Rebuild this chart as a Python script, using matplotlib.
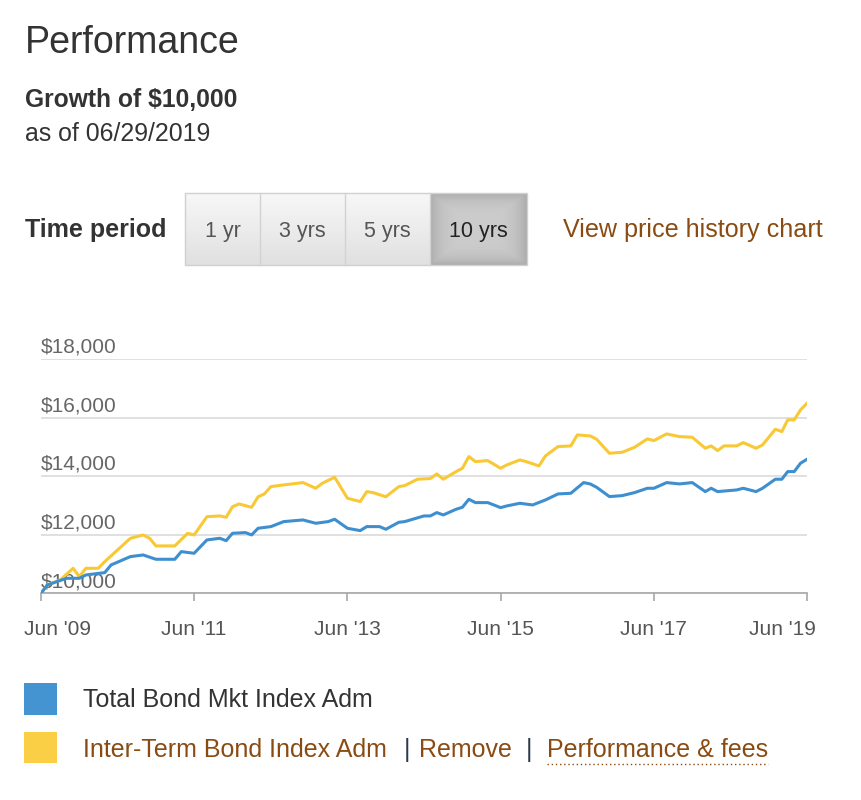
import matplotlib
matplotlib.use('Agg')
import matplotlib.pyplot as plt
import matplotlib.transforms as mtransforms
import numpy as np
import pandas as pd
from matplotlib.patches import Rectangle
from matplotlib.lines import Line2D

plt.rcParams['font.family'] = ['Liberation Sans', 'DejaVu Sans']

# ---------------- data ----------------
inter_dates = ['2009-06', '2009-07', '2009-09', '2009-11', '2009-12', '2010-01', '2010-03',
               '2010-04', '2010-06', '2010-08', '2010-10', '2010-11', '2010-12', '2011-03',
               '2011-05', '2011-06', '2011-08', '2011-10', '2011-11', '2011-12', '2012-01',
               '2012-03', '2012-04', '2012-05', '2012-06', '2012-08', '2012-11', '2013-01',
               '2013-02', '2013-04', '2013-06', '2013-08', '2013-09', '2013-10', '2013-12',
               '2014-02', '2014-03', '2014-05', '2014-07', '2014-08', '2014-09', '2014-11',
               '2014-12', '2015-01', '2015-02', '2015-04', '2015-06', '2015-07', '2015-09',
               '2015-10', '2015-12', '2016-01', '2016-03', '2016-05', '2016-06', '2016-08',
               '2016-09', '2016-11', '2017-01', '2017-03', '2017-05', '2017-06', '2017-08',
               '2017-10', '2017-12', '2018-02', '2018-03', '2018-04', '2018-05', '2018-07',
               '2018-08', '2018-10', '2018-11', '2019-01', '2019-02', '2019-03', '2019-04',
               '2019-05', '2019-06']
inter_values = [10000, 10285, 10456, 10855, 10570, 10855, 10855,
                11083, 11482, 11880, 11994, 11880, 11620, 11620,
                12050, 11994, 12620, 12645, 12600, 12960, 13055,
                12940, 13300, 13397, 13648, 13705, 13785, 13590,
                13762, 13967, 13250, 13135, 13477, 13443, 13300,
                13648, 13682, 13900, 13922, 14081, 13900, 14161,
                14275, 14674, 14503, 14537, 14275, 14389, 14560,
                14503, 14355, 14697, 15016, 15039, 15415, 15381,
                15267, 14788, 14822, 14993, 15278, 15221, 15449,
                15358, 15335, 14959, 15039, 14879, 15039, 15039,
                15153, 14959, 15073, 15609, 15529, 15928, 15928,
                16270, 16498]

total_dates = ['2009-06', '2009-07', '2009-10', '2009-12', '2010-01', '2010-04', '2010-05',
               '2010-08', '2010-10', '2010-12', '2011-03', '2011-04', '2011-06', '2011-08',
               '2011-10', '2011-11', '2011-12', '2012-02', '2012-03', '2012-04', '2012-06',
               '2012-08', '2012-11', '2013-01', '2013-03', '2013-04', '2013-06', '2013-08',
               '2013-09', '2013-11', '2013-12', '2014-02', '2014-03', '2014-06', '2014-07',
               '2014-08', '2014-09', '2014-11', '2014-12', '2015-01', '2015-02', '2015-04',
               '2015-06', '2015-07', '2015-09', '2015-11', '2016-01', '2016-03', '2016-05',
               '2016-07', '2016-08', '2016-09', '2016-11', '2017-01', '2017-03', '2017-05',
               '2017-06', '2017-08', '2017-10', '2017-12', '2018-02', '2018-03', '2018-04',
               '2018-07', '2018-08', '2018-10', '2018-11', '2019-01', '2019-02', '2019-03',
               '2019-04', '2019-05', '2019-06']
total_values = [10000, 10285, 10513, 10513, 10627, 10707, 10969,
                11254, 11311, 11163, 11163, 11425, 11368, 11824,
                11881, 11800, 12052, 12075, 11995, 12223, 12280,
                12451, 12508, 12394, 12451, 12531, 12223, 12143,
                12280, 12280, 12189, 12428, 12451, 12645, 12645,
                12759, 12679, 12873, 12941, 13215, 13101, 13101,
                12930, 12987, 13078, 13021, 13192, 13397, 13420,
                13785, 13739, 13625, 13306, 13340, 13443, 13591,
                13591, 13785, 13739, 13785, 13477, 13591, 13477,
                13534, 13591, 13477, 13591, 13900, 13900, 14161,
                14161, 14446, 14583]

y_ticks = [10000, 12000, 14000, 16000, 18000]
y_tick_labels = ['$10,000', '$12,000', '$14,000', '$16,000', '$18,000']
x_ticks = ['2009-06', '2011-06', '2013-06', '2015-06', '2017-06', '2019-06']
x_tick_labels = ["Jun '09", "Jun '11", "Jun '13", "Jun '15", "Jun '17", "Jun '19"]

periods = ['1 yr', '3 yrs', '5 yrs', '10 yrs']
series_names = ['Total Bond Mkt Index Adm', 'Inter-Term Bond Index Adm']

# ---------------- styling ----------------
BLUE = '#3e8fd0'
YELLOW = '#f8c935'
BLUE_SQ = '#4494d1'
YELLOW_SQ = '#fbcf45'
BROWN = '#8a4b12'
DARK = '#333333'

W, H = 861, 800
fig = plt.figure(figsize=(W / 100, H / 100), dpi=100)


def fx(x):
    return x / W


def fy(y):
    return 1 - y / H


# Header texts
fig.text(fx(25), fy(53.3), 'Performance', fontsize=27, color=DARK, va='baseline', ha='left')
fig.text(fx(25), fy(107.3), 'Growth of $10,000', fontsize=17.7, fontweight='bold',
         color=DARK, va='baseline', ha='left')
fig.text(fx(25), fy(140.7), 'as of 06/29/2019', fontsize=17.9, color=DARK,
         va='baseline', ha='left')

# Time period row
fig.text(fx(25), fy(237), 'Time period', fontsize=18, fontweight='bold', color=DARK,
         va='baseline', ha='left')

btn_edges = [185, 260, 345, 429.5, 526.5]
btn_top, btn_bot = 193.3, 265
for i, lab in enumerate(periods):
    x0, x1 = btn_edges[i], btn_edges[i + 1]
    selected = (i == len(periods) - 1)
    # gradient via an inset axes image
    bax = fig.add_axes([fx(x0), fy(btn_bot), (x1 - x0) / W, (btn_bot - btn_top) / H])
    bax.set_axis_off()
    if selected:
        yy = np.linspace(-1, 1, 60)[:, None]
        xx = np.linspace(-1, 1, 80)[None, :]
        r = np.maximum(np.abs(xx) ** 4, np.abs(yy) ** 4)
        grad = 0.80 - 0.12 * r
        img = np.dstack([grad, grad, grad])
    else:
        g = np.linspace(0.97, 0.88, 60)[:, None] * np.ones((1, 10))
        img = np.dstack([g, g, g])
    bax.imshow(img, aspect='auto', extent=[0, 1, 0, 1], interpolation='bilinear')
    bax.set_xlim(0, 1)
    bax.set_ylim(0, 1)
    fig.text(fx((x0 + x1) / 2), fy(236.7), lab, fontsize=15.5,
             color='#222222' if selected else '#555555', ha='center', va='baseline')
    if i > 0:
        fig.add_artist(Line2D([fx(x0), fx(x0)], [fy(btn_top), fy(btn_bot)],
                              color='#d2d2d2', lw=1.0))
fig.add_artist(Rectangle((fx(185), fy(btn_bot)), (526.5 - 185) / W, (btn_bot - btn_top) / H,
                         fill=False, edgecolor='#d0d0d0', lw=1.0))

fig.text(fx(563), fy(237), 'View price history chart', fontsize=18.1, color=BROWN,
         va='baseline', ha='left')

# ---------------- chart ----------------
ax = fig.add_axes([fx(41), fy(593.3), (807 - 41) / W, (593.3 - 359.3) / H])
d_inter = pd.to_datetime(inter_dates)
d_total = pd.to_datetime(total_dates)

ax.plot(d_inter, inter_values, color=YELLOW, lw=2.2, zorder=3, solid_joinstyle='round')
ax.plot(d_total, total_values, color=BLUE, lw=2.2, zorder=4, solid_joinstyle='round')

ax.set_ylim(10000, 18000)
ax.set_xlim(pd.Timestamp(x_ticks[0]), pd.Timestamp(x_ticks[-1]))
ax.set_yticks(y_ticks)
ax.set_yticklabels([])
ax.tick_params(axis='y', length=0)
ax.yaxis.grid(True, color='#dadada', lw=1.2, zorder=0)
ax.set_axisbelow(True)
for s in ['left', 'right', 'top']:
    ax.spines[s].set_visible(False)
ax.spines['bottom'].set_color('#a8a8a8')
ax.spines['bottom'].set_linewidth(1.2)
ax.spines['bottom'].set_zorder(2)

ax.set_xticks(pd.to_datetime(x_ticks))
ax.set_xticklabels(x_tick_labels)
ax.tick_params(axis='x', length=6, width=1.2, color='#a8a8a8', labelsize=15,
               labelcolor='#555555', pad=13)
labels = ax.get_xticklabels()
labels[0].set_transform(labels[0].get_transform() +
                        mtransforms.ScaledTranslation(17 / 100, 0, fig.dpi_scale_trans))
labels[-1].set_transform(labels[-1].get_transform() +
                         mtransforms.ScaledTranslation(-24.5 / 100, 0, fig.dpi_scale_trans))

ytrans = mtransforms.offset_copy(ax.get_yaxis_transform(), fig=fig, x=-0.5, y=6.3, units='dots')
for v, lab in zip(y_ticks, y_tick_labels):
    ax.text(0, v, lab, transform=ytrans, fontsize=15, color='#666666', ha='left',
            va='baseline', zorder=1)

# ---------------- legend ----------------
fig.add_artist(Rectangle((fx(24.3), fy(715)), (56.7 - 24.3) / W, (715 - 682.7) / H,
                         facecolor=BLUE_SQ, edgecolor='none'))
fig.add_artist(Rectangle((fx(24.3), fy(763.3)), (56.7 - 24.3) / W, (763.3 - 731.7) / H,
                         facecolor=YELLOW_SQ, edgecolor='none'))
fig.text(fx(83.3), fy(706.7), series_names[0], fontsize=18, color=DARK, va='baseline', ha='left')
fig.text(fx(83.3), fy(757.3), series_names[1], fontsize=18, color=BROWN, va='baseline', ha='left')
fig.text(fx(406.7), fy(757.3), '|', fontsize=18, color='#2a3a4a', va='baseline', ha='center')
fig.text(fx(419.3), fy(757.3), 'Remove', fontsize=18, color=BROWN, va='baseline', ha='left')
fig.text(fx(529), fy(757.3), '|', fontsize=18, color='#2a3a4a', va='baseline', ha='center')
fig.text(fx(546.7), fy(757.3), 'Performance & fees', fontsize=18, color=BROWN,
         va='baseline', ha='left')
fig.add_artist(Line2D([fx(547), fx(768)], [fy(763.5), fy(763.5)], color=BROWN, lw=1.0,
                      linestyle=(0, (1, 2))))

fig.savefig('out.png', dpi=100)
